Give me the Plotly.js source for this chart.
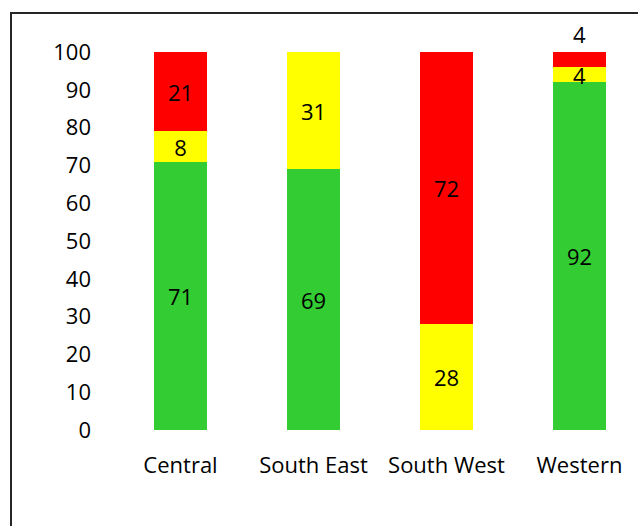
<!DOCTYPE html>
<html>
<head>
<meta charset="utf-8">
<script src="https://cdn.plot.ly/plotly-3.0.1.min.js"></script>
<style>
html,body{margin:0;padding:0;overflow:hidden;background:#fff;}
#chart{width:638px;height:526px;}
#frame{position:absolute;left:10px;top:12px;width:700px;height:600px;border:2px solid #262626;pointer-events:none;}
</style>
</head>
<body>
<div id="chart"></div>
<div id="frame"></div>
<script>
const categories = ["Central", "South East", "South West", "Western"];
const greenValues = [71, 69, 0, 92];
const yellowValues = [8, 31, 28, 4];
const redValues = [21, 0, 72, 4];
const yTicks = [0, 10, 20, 30, 40, 50, 60, 70, 80, 90, 100];

const FONT = "Open Sans, Liberation Sans, sans-serif";
const FS = 22;
function lbl(v){ return v.map(x => x > 0 ? String(x) : ""); }
function series(vals, color, pos){
  return {
    type: "bar", x: categories, y: vals,
    marker: {color: color, line: {width: 0}},
    text: lbl(vals), textposition: pos || "inside", insidetextanchor: "middle",
    textangle: 0, constraintext: "none", cliponaxis: false,
    textfont: {family: FONT, size: FS, color: "#000"},
    outsidetextfont: {family: FONT, size: FS, color: "#000"},
    hoverinfo: "skip"
  };
}
const data = [
  series(greenValues, "#33CC33"),
  series(yellowValues, "#FFFF00"),
  series(redValues, "#FF0000", ["inside", "inside", "inside", "outside"])
];
const layout = {
  width: 638, height: 526,
  margin: {l: 114, r: 0, t: 52, b: 96},
  barmode: "stack", bargap: 0.595,
  showlegend: false,
  paper_bgcolor: "#fff", plot_bgcolor: "#fff",
  font: {family: FONT, size: FS, color: "#000"},
  xaxis: {range: [-0.5, 3.44], showgrid: false, zeroline: false, showline: false,
          ticks: "", ticklabelstandoff: 20, tickfont: {family: FONT, size: FS, color: "#000"}},
  yaxis: {range: [0, 100], tickvals: yTicks, showgrid: false, zeroline: false, showline: false,
          ticks: "", ticklabelstandoff: 22, tickfont: {family: FONT, size: FS, color: "#000"}}
};
Plotly.newPlot("chart", data, layout, {staticPlot: true, displayModeBar: false});
</script>
</body>
</html>
